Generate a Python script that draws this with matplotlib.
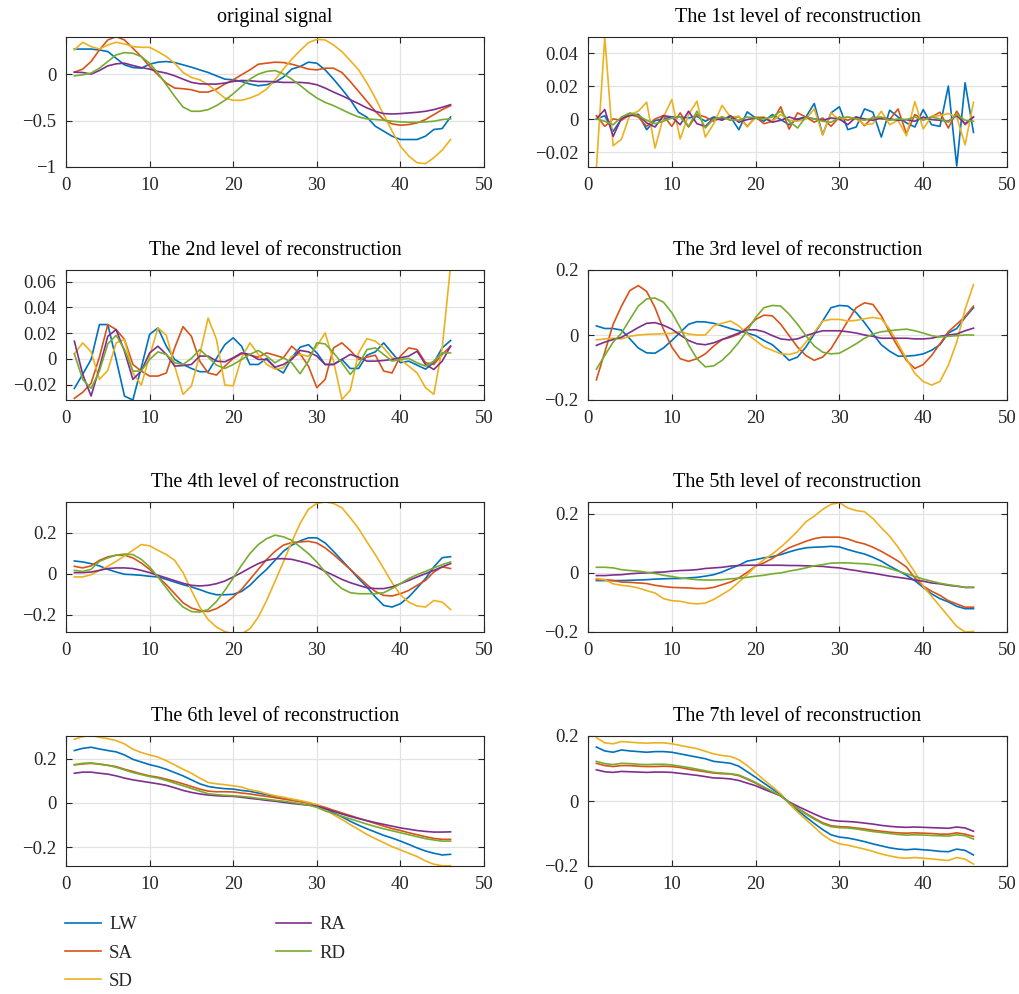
import numpy as np
import matplotlib
matplotlib.use("Agg")
import matplotlib.pyplot as plt
from matplotlib.ticker import FuncFormatter

# series names and MATLAB default colours
names = ['LW', 'SA', 'SD', 'RA', 'RD']
colors = ['#0072BD', '#D95319', '#EDB120', '#7E2F8E', '#77AC30']

titles = ['original signal',
          'The 1st level of reconstruction',
          'The 2nd level of reconstruction',
          'The 3rd level of reconstruction',
          'The 4th level of reconstruction',
          'The 5th level of reconstruction',
          'The 6th level of reconstruction',
          'The 7th level of reconstruction']

# ---- original signal ----
lw_0 = [0.27, 0.27, 0.27, 0.26, 0.243, 0.171, 0.10, 0.071, 0.064, 0.107,
        0.129, 0.136, 0.125, 0.10, 0.075, 0.046, 0.018, -0.018, -0.054, -0.061,
        -0.079, -0.107, -0.125, -0.114, -0.086, -0.032, 0.054, 0.082, 0.129, 0.118,
        0.046, -0.054, -0.161, -0.275, -0.411, -0.464, -0.561, -0.614, -0.668, -0.704,
        -0.704, -0.704, -0.668, -0.596, -0.586, -0.461]
sa_0 = [0.021, 0.054, 0.136, 0.261, 0.368, 0.404, 0.368, 0.279, 0.189, 0.082,
        -0.007, -0.096, -0.15, -0.157, -0.168, -0.193, -0.193, -0.161, -0.107, -0.061,
        -0.007, 0.046, 0.107, 0.118, 0.129, 0.125, 0.107, 0.082, 0.054, 0.046,
        0.064, 0.064, 0.018, -0.079, -0.186, -0.293, -0.4, -0.489, -0.536, -0.55,
        -0.543, -0.525, -0.489, -0.436, -0.382, -0.339]
sd_0 = [0.261, 0.343, 0.296, 0.271, 0.314, 0.343, 0.325, 0.296, 0.289, 0.289,
        0.243, 0.189, 0.118, 0.018, -0.036, -0.061, -0.114, -0.186, -0.257, -0.282,
        -0.282, -0.257, -0.221, -0.161, -0.061, 0.054, 0.161, 0.254, 0.339, 0.375,
        0.368, 0.314, 0.243, 0.146, 0.046, -0.096, -0.257, -0.436, -0.614, -0.775,
        -0.882, -0.954, -0.964, -0.9, -0.818, -0.704]
ra_0 = [0.021, 0.018, 0.0, 0.039, 0.089, 0.111, 0.118, 0.093, 0.071, 0.054,
        0.029, 0.011, -0.018, -0.054, -0.089, -0.104, -0.107, -0.107, -0.096, -0.079,
        -0.068, -0.071, -0.079, -0.079, -0.082, -0.089, -0.089, -0.089, -0.096, -0.114,
        -0.15, -0.193, -0.232, -0.275, -0.318, -0.364, -0.4, -0.425, -0.429, -0.425,
        -0.418, -0.411, -0.4, -0.382, -0.357, -0.329]
rd_0 = [-0.018, -0.007, 0.011, 0.064, 0.136, 0.207, 0.232, 0.225, 0.189, 0.118,
        0.011, -0.114, -0.239, -0.354, -0.4, -0.4, -0.382, -0.339, -0.282, -0.211,
        -0.132, -0.054, 0.0, 0.029, 0.039, 0.004, -0.054, -0.121, -0.193, -0.257,
        -0.304, -0.339, -0.382, -0.425, -0.461, -0.482, -0.489, -0.496, -0.507, -0.514,
        -0.518, -0.518, -0.514, -0.507, -0.489, -0.482]

# ---- level 1 ----
lw_1 = [0.0, 0.0022, -0.0073, 0.0002, 0.0029, 0.0029, -0.0063, -0.0008, 0.0002, 0.0014,
        0.0014, 0.0008, 0.0018, -0.0012, 0.0014, 0.0002, 0.0014, -0.0063, 0.0045, 0.0008,
        -0.0012, 0.0029, -0.0002, -0.0033, 0.0002, 0.0014, 0.0096, -0.0094, 0.0039, 0.0076,
        -0.0063, -0.0047, 0.0063, 0.0043, -0.0108, 0.0055, 0.0014, -0.0022, -0.0047, 0.0059,
        -0.0033, -0.0043, 0.0202, -0.0284, 0.0222, -0.008]
sa_1 = [0.0022, -0.0043, 0.0002, -0.0006, 0.0029, 0.0014, -0.0043, 0.0002, 0.0022, -0.0043,
        0.0039, -0.0047, 0.0029, 0.0014, -0.0012, 0.0014, -0.0006, 0.0018, -0.0043, 0.0014,
        -0.0027, -0.0012, 0.0076, -0.006, 0.0039, 0.0014, -0.0018, 0.0008, -0.0043, 0.0014,
        -0.0006, 0.0014, -0.0039, 0.0014, 0.0002, -0.0002, 0.0063, -0.0088, 0.0029, -0.0002,
        0.0014, 0.0043, -0.0053, 0.0049, -0.0033, 0.0014]
sd_1 = [-0.03, 0.05, -0.0161, -0.012, 0.0029, 0.0049, 0.0104, -0.0175, 0.0014, 0.012,
        -0.012, 0.0029, 0.011, -0.0108, -0.0027, 0.0084, 0.0014, 0.0018, -0.0047, 0.0014,
        0.0014, -0.0012, 0.0029, -0.0006, -0.0012, 0.0002, 0.0063, -0.0094, 0.0039, -0.0006,
        0.0014, 0.0002, -0.0033, -0.0027, 0.0049, -0.0033, -0.0006, -0.01, 0.0108, -0.0059,
        0.0018, 0.0022, 0.0035, 0.0014, -0.0155, 0.0104]
ra_1 = [0.0002, 0.0059, -0.0104, 0.0008, 0.0022, 0.0029, -0.0022, -0.0047, 0.0022, 0.0014,
        -0.0033, 0.0049, -0.0027, -0.0043, 0.0008, -0.0006, 0.0022, -0.0018, -0.0002, 0.0008,
        0.0008, -0.0018, -0.0006, 0.0014, -0.0002, 0.0014, 0.0002, -0.0006, 0.0008, 0.0002,
        -0.0033, 0.0014, 0.0002, -0.0006, 0.0008, 0.0002, -0.0006, -0.0002, -0.0012, 0.0014,
        -0.0002, -0.0006, -0.0012, 0.0022, -0.0027, 0.0014]
rd_1 = [0.0002, -0.0012, -0.0033, 0.0014, 0.0039, 0.0022, -0.0006, -0.0027, -0.0012, 0.0008,
        0.0014, -0.0043, 0.0049, -0.0053, 0.0002, 0.0014, -0.0002, -0.0006, 0.0014, 0.0008,
        0.0002, 0.0014, 0.0049, -0.0012, -0.0053, 0.0014, 0.0002, -0.0012, -0.0018, 0.0008,
        0.0014, 0.0002, -0.0006, 0.0008, 0.0014, -0.0006, 0.0002, -0.0002, 0.0014, -0.0006,
        0.0014, 0.0002, -0.0018, 0.0029, -0.0006, -0.0012]

# ---- level 2 ----
lw_2 = [-0.023, -0.012, -0.0005, 0.0266, 0.0266, -0.0005, -0.029, -0.032, -0.007, 0.019,
        0.024, 0.0098, -0.0005, -0.0044, -0.0075, -0.01, -0.01, 0.0003, 0.011, 0.0163,
        0.0098, -0.0044, -0.0044, 0.0003, -0.007, -0.011, 0.0008, 0.009, 0.011, 0.0046,
        -0.0044, -0.0044, -0.0005, -0.0075, -0.0075, 0.0028, 0.0054, 0.0124, 0.0046, -0.003,
        -0.0018, -0.0049, -0.008, -0.003, 0.0085, 0.0142]
sa_2 = [-0.0307, -0.026, -0.019, 0.0013, 0.0266, 0.0227, 0.015, -0.0044, -0.0095, -0.0134,
        -0.0134, -0.011, 0.0085, 0.025, 0.0175, -0.0018, -0.011, -0.0126, -0.0057, 0.0003,
        0.0039, 0.0028, 0.0013, 0.0046, 0.0028, 0.0008, 0.0098, 0.0039, -0.0057, -0.0224,
        -0.016, 0.0085, 0.0124, 0.0065, -0.0005, 0.0013, 0.0028, -0.0095, -0.011, 0.0021,
        0.0085, 0.0072, -0.003, -0.0044, 0.0034, 0.0098]
sd_2 = [0.0039, 0.0124, 0.0054, -0.016, -0.009, 0.0124, 0.015, -0.011, -0.0204, 0.002,
        0.024, 0.0183, -0.0057, -0.0276, -0.0212, 0.0034, 0.0317, 0.015, -0.0204, -0.021,
        0.0008, 0.0124, 0.0034, -0.0044, -0.008, -0.007, 0.002, 0.0034, 0.002, 0.0098,
        0.0201, -0.0018, -0.0315, -0.0245, 0.0046, 0.0157, 0.0137, 0.0085, 0.0008, -0.0005,
        -0.0057, -0.011, -0.0224, -0.0276, 0.0085, 0.072]
ra_2 = [0.0137, -0.0121, -0.0289, -0.007, 0.0175, 0.0227, 0.0059, -0.016, -0.0095, 0.0046,
        0.0098, 0.0034, -0.0057, -0.0052, -0.0044, 0.0021, 0.0021, -0.0018, -0.0023, 0.0008,
        0.0046, 0.0034, -0.0005, -0.0005, -0.0065, -0.0044, -0.0005, 0.0065, 0.0054, 0.0021,
        -0.0044, -0.0044, -0.0005, 0.0034, 0.0013, -0.0018, -0.0018, -0.0013, -0.0005, 0.0008,
        0.0021, 0.0059, -0.0044, -0.0083, -0.0018, 0.0098]
rd_2 = [0.0039, -0.016, -0.023, -0.0095, 0.0116, 0.0183, 0.0072, -0.0095, -0.0095, -0.0005,
        0.0054, 0.0034, -0.0031, -0.0044, 0.0003, 0.0072, 0.0013, -0.0049, -0.0075, -0.0044,
        -0.0005, 0.0034, 0.0065, 0.0021, -0.0031, 0.0008, -0.0031, -0.0116, -0.0018, 0.0124,
        0.0116, 0.0046, -0.0031, -0.0121, -0.0044, 0.0072, 0.0085, 0.0034, -0.0018, -0.0005,
        0.0003, -0.0031, -0.0057, -0.0018, 0.0046, 0.0046]

# ---- level 3 ----
lw_3 = [0.028, 0.02, 0.02, 0.015, -0.012, -0.04, -0.055, -0.056, -0.04, -0.017,
        0.008, 0.033, 0.041, 0.04, 0.036, 0.028, 0.02, 0.013, 0.006, -0.002,
        -0.017, -0.03, -0.053, -0.078, -0.068, -0.037, 0.003, 0.043, 0.084, 0.091,
        0.089, 0.069, 0.038, 0.003, -0.03, -0.05, -0.065, -0.065, -0.063, -0.058,
        -0.047, -0.03, 0.006, 0.02, 0.054, 0.084]
sa_3 = [-0.138, -0.053, 0.033, 0.089, 0.137, 0.152, 0.134, 0.084, 0.018, -0.037,
        -0.073, -0.081, -0.073, -0.058, -0.034, -0.014, -0.007, 0.003, 0.023, 0.048,
        0.061, 0.059, 0.033, -0.002, -0.037, -0.063, -0.078, -0.068, -0.042, 0.0,
        0.043, 0.084, 0.099, 0.094, 0.059, 0.008, -0.037, -0.078, -0.103, -0.091,
        -0.063, -0.027, 0.01, 0.033, 0.057, 0.089]
sd_3 = [-0.015, -0.012, -0.01, -0.012, -0.004, 0.0, 0.002, 0.003, 0.004, 0.005,
        0.01, 0.003, 0.0, 0.0, 0.028, 0.036, 0.043, 0.028, 0.003, -0.017,
        -0.037, -0.047, -0.058, -0.06, -0.053, -0.022, 0.008, 0.043, 0.048, 0.048,
        0.043, 0.045, 0.05, 0.054, 0.05, 0.018, -0.027, -0.073, -0.118, -0.143,
        -0.154, -0.143, -0.093, -0.022, 0.079, 0.155]
ra_3 = [-0.032, -0.022, -0.014, -0.007, 0.008, 0.023, 0.036, 0.038, 0.03, 0.018,
        0.0, -0.017, -0.027, -0.03, -0.024, -0.014, -0.004, 0.006, 0.016, 0.016,
        0.01, -0.002, -0.012, -0.015, -0.012, -0.002, 0.006, 0.013, 0.013, 0.013,
        0.01, 0.006, 0.0, -0.004, -0.01, -0.01, -0.01, -0.01, -0.012, -0.012,
        -0.01, -0.004, 0.0, 0.003, 0.013, 0.021]
rd_3 = [-0.105, -0.063, -0.022, 0.006, 0.048, 0.089, 0.111, 0.114, 0.101, 0.069,
        0.023, -0.03, -0.073, -0.098, -0.095, -0.078, -0.053, -0.022, 0.013, 0.054,
        0.084, 0.091, 0.089, 0.064, 0.033, -0.002, -0.034, -0.053, -0.058, -0.056,
        -0.042, -0.027, -0.01, 0.003, 0.01, 0.013, 0.016, 0.018, 0.013, 0.006,
        -0.002, -0.006, -0.004, -0.002, 0.0, 0.0]

# ---- level 4 ----
lw_4 = [0.062, 0.057, 0.049, 0.038, 0.021, 0.008, -0.003, -0.005, -0.008, -0.013,
        -0.016, -0.028, -0.041, -0.054, -0.065, -0.078, -0.093, -0.103, -0.103, -0.101,
        -0.087, -0.057, -0.016, 0.021, 0.065, 0.109, 0.139, 0.16, 0.175, 0.175,
        0.15, 0.109, 0.065, 0.021, -0.024, -0.065, -0.114, -0.155, -0.163, -0.147,
        -0.114, -0.07, -0.024, 0.033, 0.078, 0.083]
sa_4 = [0.036, 0.028, 0.038, 0.065, 0.082, 0.09, 0.09, 0.077, 0.052, 0.021,
        -0.016, -0.054, -0.098, -0.142, -0.168, -0.18, -0.185, -0.171, -0.147, -0.114,
        -0.077, -0.028, 0.021, 0.069, 0.109, 0.139, 0.152, 0.155, 0.158, 0.15,
        0.126, 0.093, 0.057, 0.021, -0.016, -0.054, -0.087, -0.106, -0.109, -0.098,
        -0.082, -0.057, -0.033, 0.008, 0.033, 0.025]
sd_4 = [-0.016, -0.016, -0.005, 0.016, 0.036, 0.06, 0.087, 0.114, 0.142, 0.136,
        0.114, 0.093, 0.065, 0.005, -0.082, -0.163, -0.224, -0.261, -0.283, -0.294,
        -0.294, -0.269, -0.212, -0.131, -0.038, 0.057, 0.155, 0.245, 0.315, 0.343,
        0.351, 0.343, 0.322, 0.273, 0.22, 0.155, 0.093, 0.025, -0.044, -0.103,
        -0.139, -0.158, -0.163, -0.131, -0.139, -0.175]
ra_4 = [0.005, 0.005, 0.008, 0.016, 0.025, 0.028, 0.028, 0.025, 0.016, 0.005,
        -0.008, -0.021, -0.034, -0.047, -0.057, -0.06, -0.057, -0.049, -0.036, -0.016,
        0.005, 0.028, 0.049, 0.065, 0.073, 0.073, 0.07, 0.06, 0.049, 0.033,
        0.011, -0.008, -0.028, -0.044, -0.057, -0.069, -0.073, -0.073, -0.065, -0.049,
        -0.033, -0.016, 0.0, 0.016, 0.033, 0.049]
rd_4 = [0.016, 0.011, 0.021, 0.06, 0.077, 0.09, 0.096, 0.093, 0.07, 0.033,
        -0.016, -0.07, -0.122, -0.163, -0.185, -0.188, -0.175, -0.136, -0.082, -0.021,
        0.041, 0.098, 0.142, 0.171, 0.188, 0.18, 0.163, 0.131, 0.098, 0.057,
        0.008, -0.038, -0.073, -0.093, -0.098, -0.098, -0.098, -0.093, -0.073, -0.049,
        -0.024, -0.005, 0.011, 0.028, 0.044, 0.057]

# ---- level 5 ----
lw_5 = [-0.026, -0.026, -0.026, -0.026, -0.025, -0.024, -0.023, -0.021, -0.02, -0.019,
        -0.019, -0.017, -0.015, -0.011, -0.006, 0.003, 0.015, 0.026, 0.04, 0.045,
        0.051, 0.055, 0.062, 0.071, 0.079, 0.085, 0.087, 0.088, 0.09, 0.088,
        0.079, 0.071, 0.064, 0.053, 0.04, 0.023, 0.008, -0.008, -0.026, -0.049,
        -0.071, -0.087, -0.098, -0.113, -0.121, -0.121]
sa_5 = [-0.023, -0.023, -0.026, -0.031, -0.032, -0.034, -0.036, -0.042, -0.046, -0.049,
        -0.05, -0.051, -0.053, -0.053, -0.049, -0.04, -0.031, -0.017, 0.002, 0.023,
        0.034, 0.049, 0.068, 0.085, 0.096, 0.107, 0.116, 0.121, 0.121, 0.121,
        0.115, 0.105, 0.098, 0.087, 0.073, 0.057, 0.04, 0.02, -0.017, -0.045,
        -0.062, -0.076, -0.094, -0.105, -0.116, -0.116]
sd_5 = [-0.019, -0.023, -0.037, -0.042, -0.045, -0.051, -0.06, -0.068, -0.087, -0.094,
        -0.096, -0.102, -0.105, -0.102, -0.09, -0.073, -0.056, -0.031, -0.006, 0.023,
        0.045, 0.064, 0.087, 0.113, 0.141, 0.173, 0.192, 0.215, 0.232, 0.238,
        0.22, 0.211, 0.207, 0.184, 0.153, 0.124, 0.087, 0.045, 0.003, -0.045,
        -0.079, -0.113, -0.147, -0.181, -0.2, -0.198]
ra_5 = [-0.009, -0.009, -0.007, -0.006, -0.003, -0.001, 0.0, 0.002, 0.003, 0.006,
        0.008, 0.009, 0.011, 0.015, 0.017, 0.019, 0.023, 0.025, 0.026, 0.026,
        0.026, 0.026, 0.026, 0.025, 0.025, 0.024, 0.023, 0.022, 0.019, 0.017,
        0.012, 0.008, 0.003, -0.001, -0.006, -0.011, -0.015, -0.019, -0.024, -0.028,
        -0.034, -0.037, -0.042, -0.045, -0.049, -0.049]
rd_5 = [0.019, 0.019, 0.017, 0.011, 0.008, 0.006, 0.002, -0.002, -0.008, -0.012,
        -0.017, -0.02, -0.023, -0.024, -0.024, -0.023, -0.02, -0.018, -0.015, -0.011,
        -0.008, -0.003, 0.0, 0.006, 0.011, 0.017, 0.024, 0.028, 0.033, 0.034,
        0.034, 0.032, 0.031, 0.028, 0.023, 0.015, 0.006, -0.003, -0.012, -0.021,
        -0.028, -0.035, -0.04, -0.044, -0.049, -0.049]

# ---- level 6 ----
lw_6 = [0.238, 0.248, 0.253, 0.245, 0.238, 0.232, 0.218, 0.198, 0.186, 0.174,
        0.165, 0.153, 0.138, 0.123, 0.105, 0.087, 0.075, 0.069, 0.065, 0.063,
        0.057, 0.053, 0.045, 0.038, 0.03, 0.023, 0.015, 0.008, 0.0, -0.011,
        -0.027, -0.045, -0.063, -0.083, -0.101, -0.117, -0.132, -0.147, -0.159, -0.173,
        -0.188, -0.204, -0.218, -0.228, -0.236, -0.233]
sa_6 = [0.173, 0.177, 0.18, 0.176, 0.171, 0.165, 0.153, 0.143, 0.132, 0.123,
        0.117, 0.108, 0.098, 0.087, 0.075, 0.063, 0.054, 0.051, 0.051, 0.05,
        0.045, 0.041, 0.035, 0.03, 0.024, 0.018, 0.012, 0.006, 0.0, -0.009,
        -0.02, -0.033, -0.045, -0.057, -0.069, -0.081, -0.093, -0.105, -0.116, -0.125,
        -0.135, -0.144, -0.153, -0.161, -0.165, -0.165]
sd_6 = [0.289, 0.301, 0.307, 0.298, 0.292, 0.283, 0.268, 0.244, 0.229, 0.218,
        0.208, 0.192, 0.173, 0.153, 0.135, 0.113, 0.093, 0.087, 0.083, 0.078,
        0.072, 0.06, 0.053, 0.042, 0.033, 0.026, 0.018, 0.011, 0.003, -0.008,
        -0.03, -0.053, -0.075, -0.098, -0.12, -0.143, -0.162, -0.18, -0.198, -0.213,
        -0.228, -0.243, -0.263, -0.278, -0.285, -0.285]
ra_6 = [0.135, 0.14, 0.14, 0.135, 0.131, 0.123, 0.113, 0.105, 0.099, 0.093,
        0.087, 0.08, 0.069, 0.057, 0.048, 0.041, 0.036, 0.033, 0.031, 0.03,
        0.026, 0.021, 0.017, 0.012, 0.008, 0.003, -0.002, -0.006, -0.01, -0.014,
        -0.026, -0.038, -0.05, -0.061, -0.071, -0.08, -0.089, -0.097, -0.105, -0.113,
        -0.119, -0.125, -0.129, -0.132, -0.132, -0.131]
rd_6 = [0.174, 0.18, 0.182, 0.177, 0.171, 0.162, 0.15, 0.138, 0.129, 0.12,
        0.113, 0.102, 0.09, 0.078, 0.066, 0.054, 0.042, 0.038, 0.035, 0.033,
        0.03, 0.026, 0.021, 0.017, 0.012, 0.008, 0.003, -0.003, -0.009, -0.02,
        -0.036, -0.048, -0.06, -0.072, -0.084, -0.096, -0.107, -0.117, -0.126, -0.135,
        -0.144, -0.153, -0.162, -0.168, -0.173, -0.173]

# ---- level 7 ----
lw_7 = [0.166, 0.154, 0.15, 0.157, 0.154, 0.152, 0.15, 0.152, 0.152, 0.15,
        0.145, 0.14, 0.135, 0.13, 0.122, 0.119, 0.116, 0.107, 0.09, 0.073,
        0.055, 0.037, 0.02, -0.007, -0.028, -0.049, -0.069, -0.088, -0.104, -0.111,
        -0.114, -0.119, -0.125, -0.132, -0.138, -0.144, -0.148, -0.15, -0.148, -0.15,
        -0.152, -0.155, -0.156, -0.148, -0.152, -0.166]
sa_7 = [0.116, 0.109, 0.106, 0.109, 0.109, 0.107, 0.106, 0.106, 0.107, 0.106,
        0.103, 0.098, 0.094, 0.09, 0.086, 0.084, 0.083, 0.078, 0.067, 0.055,
        0.041, 0.028, 0.016, -0.005, -0.022, -0.038, -0.053, -0.067, -0.076, -0.079,
        -0.08, -0.083, -0.086, -0.09, -0.093, -0.096, -0.098, -0.099, -0.098, -0.099,
        -0.1, -0.102, -0.102, -0.098, -0.102, -0.109]
sd_7 = [0.195, 0.179, 0.176, 0.183, 0.181, 0.179, 0.178, 0.179, 0.179, 0.176,
        0.171, 0.166, 0.161, 0.153, 0.145, 0.14, 0.137, 0.127, 0.109, 0.087,
        0.065, 0.044, 0.022, -0.008, -0.034, -0.057, -0.08, -0.104, -0.121, -0.132,
        -0.136, -0.142, -0.148, -0.155, -0.163, -0.169, -0.174, -0.176, -0.174, -0.176,
        -0.178, -0.181, -0.183, -0.174, -0.179, -0.194]
ra_7 = [0.096, 0.09, 0.088, 0.091, 0.09, 0.089, 0.088, 0.089, 0.089, 0.088,
        0.085, 0.082, 0.079, 0.075, 0.071, 0.07, 0.068, 0.063, 0.055, 0.047,
        0.036, 0.026, 0.016, -0.003, -0.016, -0.028, -0.04, -0.051, -0.059, -0.062,
        -0.063, -0.065, -0.068, -0.071, -0.075, -0.078, -0.08, -0.081, -0.08, -0.081,
        -0.082, -0.083, -0.084, -0.08, -0.083, -0.093]
rd_7 = [0.122, 0.115, 0.112, 0.116, 0.115, 0.113, 0.112, 0.113, 0.113, 0.111,
        0.107, 0.103, 0.098, 0.093, 0.088, 0.086, 0.084, 0.08, 0.069, 0.057,
        0.043, 0.029, 0.016, -0.005, -0.023, -0.04, -0.056, -0.07, -0.079, -0.082,
        -0.083, -0.086, -0.09, -0.094, -0.097, -0.1, -0.103, -0.105, -0.104, -0.105,
        -0.106, -0.107, -0.108, -0.104, -0.107, -0.117]

panels = [
    [lw_0, sa_0, sd_0, ra_0, rd_0],
    [lw_1, sa_1, sd_1, ra_1, rd_1],
    [lw_2, sa_2, sd_2, ra_2, rd_2],
    [lw_3, sa_3, sd_3, ra_3, rd_3],
    [lw_4, sa_4, sd_4, ra_4, rd_4],
    [lw_5, sa_5, sd_5, ra_5, rd_5],
    [lw_6, sa_6, sd_6, ra_6, rd_6],
    [lw_7, sa_7, sd_7, ra_7, rd_7],
]

# y range and y ticks of every panel
ylims = [(-1.0, 0.4), (-0.029, 0.05), (-0.032, 0.069), (-0.2, 0.2),
         (-0.285, 0.35), (-0.2, 0.24), (-0.286, 0.304), (-0.2, 0.2)]
yticks = [[-1, -0.5, 0], [-0.02, 0, 0.02, 0.04], [-0.02, 0, 0.02, 0.04, 0.06],
          [-0.2, 0, 0.2], [-0.2, 0, 0.2], [-0.2, 0, 0.2], [-0.2, 0, 0.2], [-0.2, 0, 0.2]]

plt.rcParams['font.family'] = ['Liberation Serif', 'DejaVu Serif']

W, H = 1020, 994
fig = plt.figure(figsize=(W / 100, H / 100), dpi=100)

dark = '#262626'
col_x = [66, 588]
col_w = [418, 419]
row_top = [37, 270, 502, 736]
ax_h = 130


def fmt(v, pos):
    return ('%g' % v).replace('-', '\u2212')


axes = []
for i, series in enumerate(panels):
    r, c = i // 2, i % 2
    ax = fig.add_axes([col_x[c] / W, 1 - (row_top[r] + ax_h) / H,
                       col_w[c] / W, ax_h / H])
    for name, color, y in zip(names, colors, series):
        ax.plot(np.arange(1, len(y) + 1), y, color=color, lw=1.2, label=name)
    ax.set_xlim(0, 50)
    ax.set_ylim(*ylims[i])
    ax.set_xticks([0, 10, 20, 30, 40, 50])
    ax.set_yticks(yticks[i])
    ax.yaxis.set_major_formatter(FuncFormatter(fmt))
    ax.grid(True, color='#e3e3e3', lw=0.9)
    ax.set_axisbelow(True)
    ax.tick_params(direction='in', top=True, right=True, length=4,
                   color=dark, labelcolor=dark, labelsize=13.5, pad=7)
    for s in ax.spines.values():
        s.set_color(dark)
        s.set_linewidth(0.8)
    ax.set_title(titles[i], fontsize=14.5, pad=11, color='black')
    axes.append(ax)

# legend under the bottom-left panel
handles, labels = axes[6].get_legend_handles_labels()
fig.legend(handles, labels, loc='upper left', bbox_to_anchor=(65 / W, 1 - 916 / H),
           ncol=2, frameon=False, fontsize=13.5, handlelength=1.9,
           handletextpad=0.45, labelspacing=0.6, columnspacing=7.4,
           borderpad=0, borderaxespad=0, labelcolor=dark)

fig.savefig('out.png', dpi=100)
